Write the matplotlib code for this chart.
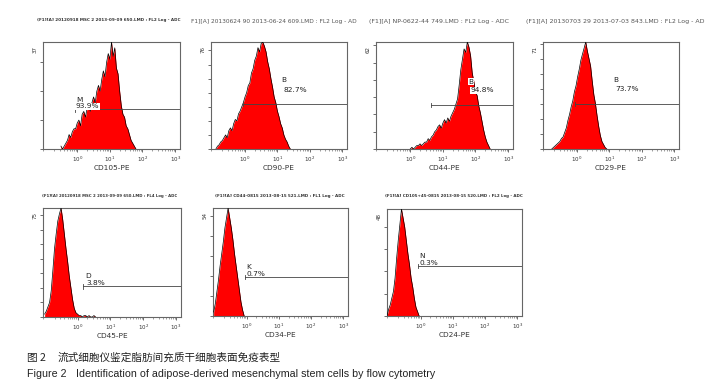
import numpy as np
import matplotlib
matplotlib.use('Agg')
import matplotlib.pyplot as plt

W, H = 715, 387

# ---- data: histogram counts per 0.05-decade channel, starting at log10 = start ----
markers = ['CD105-PE', 'CD90-PE', 'CD44-PE', 'CD29-PE', 'CD45-PE', 'CD34-PE', 'CD24-PE']
titles = [
    '(F1][A] 20120918 MSC 2 2013-09-09 650.LMD : FL2 Log - ADC',
    'F1][A] 20130624 90 2013-06-24 609.LMD : FL2 Log - AD',
    '(F1][A] NP-0622-44 749.LMD : FL2 Log - ADC',
    '(F1][A] 20130703 29 2013-07-03 843.LMD : FL2 Log - AD',
    '(F1][A] 20120918 MSC 2 2013-09-09 650.LMD : FL4 Log - ADC',
    '(F1][A] CD44-0815 2013-08-15 521.LMD : FL1 Log - ADC',
    '(F1][A] CD105+45-0815 2013-08-15 520.LMD : FL2 Log - ADC',
]
gate_names = ['M', 'B', 'B', 'B', 'D', 'K', 'N']
percents = ['93.9%', '82.7%', '94.8%', '73.7%', '3.8%', '0.7%', '0.3%']
ymax = [37, 76, 62, 71, 75, 54, 48]
starts = [-0.50, -0.90, 0.00, -0.78, -1.00, -1.03, -1.05]

cd105 = [1, 0, 1, 2, 3, 5, 4, 6, 7, 7, 9, 10, 8, 12, 13, 11, 14, 15, 13, 16,
         18, 16, 20, 22, 20, 24, 27, 25, 30, 33, 31, 37, 32, 35, 28, 26, 20, 15,
         12, 11, 8, 7, 5, 3, 2, 1, 0]
cd90 = [0, 2, 3, 5, 6, 8, 10, 8, 13, 15, 13, 18, 21, 20, 25, 27, 30, 33, 37, 40,
        45, 47, 54, 57, 63, 66, 72, 69, 75, 76, 73, 69, 62, 57, 50, 44, 37, 33,
        27, 23, 18, 15, 10, 7, 5, 2, 0]
cd44 = [0, 1, 0, 1, 2, 2, 3, 2, 3, 4, 4, 6, 5, 7, 8, 10, 11, 13, 14, 12,
        15, 17, 15, 18, 16, 19, 21, 23, 26, 29, 37, 46, 52, 58, 56, 62, 59, 54,
        44, 39, 33, 31, 25, 21, 16, 11, 7, 4, 2, 0]
cd29 = [0, 1, 2, 3, 4, 5, 7, 8, 11, 14, 19, 23, 28, 32, 38, 42, 48, 53, 59, 63,
        67, 71, 65, 60, 55, 45, 36, 30, 22, 15, 9, 5, 3, 1, 0]
cd45 = [2, 4, 7, 10, 18, 32, 47, 57, 66, 71, 75, 67, 57, 47, 38, 28, 20, 12, 6, 3,
        2, 1, 1, 0, 1, 1, 0, 1, 0, 0, 1, 0]
cd34 = [2, 6, 12, 18, 25, 31, 37, 44, 49, 54, 49, 44, 38, 31, 25, 19, 13, 7, 3, 0]
cd24 = [0, 3, 5, 8, 11, 17, 26, 34, 41, 48, 44, 40, 34, 28, 23, 17, 13, 8, 4, 2, 0]
counts = [cd105, cd90, cd44, cd29, cd45, cd34, cd24]

# ---- layout (pixel boxes: left, top, right, bottom) ----
boxes = [(43, 42, 180, 149), (211, 42, 347, 149), (376, 42, 513, 149), (543, 42, 679, 149),
         (43, 208, 181, 317), (213, 208, 348, 316), (387, 209, 522, 316)]
# gate start (log10), gate level (counts), letter (x, y), pct (x, y, va)
gates = [(-0.08, 13.7, (-0.02, 17), (-0.05, 13.7, 'bottom')),
         (-0.05, 32, (1.13, 49), (1.19, 42, 'center')),
         (0.64, 25.4, (1.79, 39), (1.84, 34, 'center')),
         (-0.06, 30, (1.12, 46), (1.18, 40, 'center')),
         (0.18, 21, (0.23, 28), (0.26, 21, 'bottom')),
         (-0.06, 19.4, (-0.03, 24.5), (0.0, 19.4, 'bottom')),
         (-0.10, 22.5, (-0.04, 27), (-0.04, 22.5, 'bottom'))]
title_pos = [(37, 20, 143, True), (191, 22, 167, False), (369, 22, 141, False),
             (526, 22, 180, False), (42, 196, 136, True), (215, 196, 132, True),
             (385, 196, 137, True)]
white_bg = [True, False, True, False, False, False, False]

fig = plt.figure(figsize=(W / 100, H / 100), dpi=100)
fig.patch.set_facecolor('white')
renderer = fig.canvas.get_renderer()


def fit_text(x, y, s, width, **kw):
    t = fig.text(x / W, 1 - y / H, s, va='center', ha='left', **kw)
    w = t.get_window_extent(renderer).width
    t.set_fontsize(t.get_fontsize() * width / w)
    return t


for i in range(7):
    l, t, r, b = boxes[i]
    ax = fig.add_axes([l / W, 1 - b / H, (r - l) / W, (b - t) / H])
    c = np.array(counts[i], dtype=float)
    x = 10 ** (starts[i] + 0.05 * np.arange(len(c)))
    ax.fill_between(x, c, color='#ff0000', lw=0, zorder=2)
    ax.plot(x, c, color='black', lw=0.5, zorder=3)

    ax.set_xscale('log')
    ax.set_xlim(10 ** -1.05, 10 ** 3.15)
    ax.set_ylim(0, ymax[i])
    ax.set_xticks([1, 10, 100, 1000])
    ax.set_xticklabels(['$10^0$', '$10^1$', '$10^2$', '$10^3$'])
    ax.set_yticks(np.arange(0, ymax[i] + 1, 10))
    ax.set_yticklabels([])
    ax.tick_params(axis='x', which='major', length=2.5, width=0.5, labelsize=4,
                   pad=1.5, colors='#333333')
    ax.tick_params(axis='x', which='minor', length=1.3, width=0.4, colors='#555555')
    ax.tick_params(axis='y', which='major', length=2, width=0.5, colors='#333333')
    ax.yaxis.set_minor_locator(matplotlib.ticker.NullLocator())
    for sp in ax.spines.values():
        sp.set_color('#666666')
        sp.set_linewidth(0.8)

    ax.text(-8 / (r - l), 1 - 4 / (b - t), str(ymax[i]), transform=ax.transAxes,
            rotation=90, ha='center', va='top', fontsize=4, color='#333333')
    ax.text(0.5, -19 / (b - t), markers[i], transform=ax.transAxes, ha='center',
            va='center', fontsize=5.3, color='#333333')

    g0, gy, (lx, ly), (px, py, pva) = gates[i]
    ax.plot([10 ** g0, 10 ** 3.15], [gy, gy], color='#444444', lw=0.6, zorder=4)
    ax.plot([10 ** g0, 10 ** g0], [gy - ymax[i] * 0.02, gy + ymax[i] * 0.02],
            color='#444444', lw=0.6, zorder=4)
    bb = dict(facecolor='white', edgecolor='none', pad=0.3) if white_bg[i] else None
    ax.text(10 ** lx, ly, gate_names[i], fontsize=5.3, ha='left', va='center',
            color='#222222', bbox=bb, zorder=5)
    ax.text(10 ** px, py, percents[i], fontsize=5.3, ha='left', va=pva,
            color='#222222', bbox=bb, zorder=5)

    tx, ty, tw, bold = title_pos[i]
    fit_text(tx, ty, titles[i], tw, fontsize=5,
             fontweight='bold' if bold else 'normal',
             color='#333333' if bold else '#555555')

cjk = ['Noto Sans CJK SC', 'DejaVu Sans']
zh = fit_text(58, 358, '流式细胞仪鉴定脂肪间充质干细胞表面免疫表型', 222,
              family=cjk, fontsize=7.5, color='#222222')
fig.text(27 / W, 1 - 358 / H, '图 2', family=cjk, fontsize=zh.get_fontsize(),
         color='#222222', va='center', ha='left')
en = fit_text(76, 374, 'Identification of adipose-derived mesenchymal stem cells by flow cytometry',
              354, family='Liberation Sans', fontsize=7, color='#222222')
fig.text(27 / W, 1 - 374 / H, 'Figure 2', family='Liberation Sans', fontsize=en.get_fontsize(),
         color='#222222', va='center', ha='left')

fig.savefig('out.png', dpi=100, facecolor='white')
